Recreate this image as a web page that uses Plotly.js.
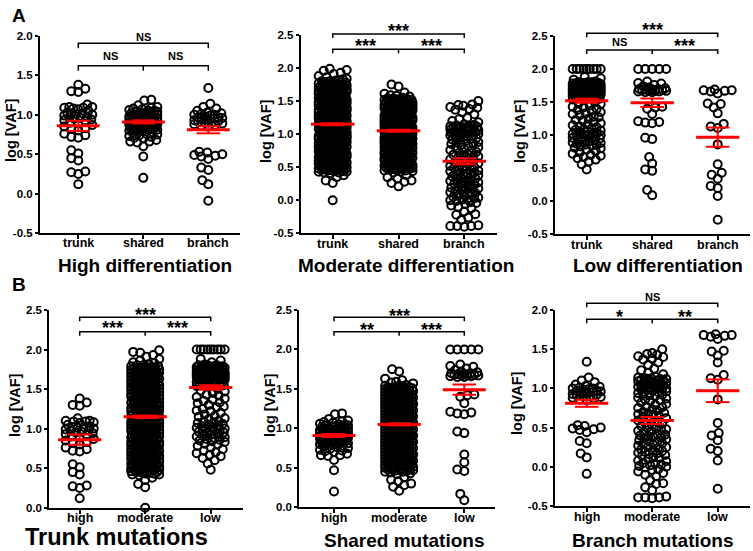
<!DOCTYPE html>
<html><head><meta charset="utf-8">
<script src="https://cdn.plot.ly/plotly-3.0.1.min.js"></script>
<style>html,body{margin:0;padding:0;background:#fff}#chart{width:753px;height:551px}</style>
</head><body><div id="chart"></div>
<script>
// ---------------- data (log VAF values) ----------------
const highTrunk = [1.38,1.33,1.30,1.29,1.13,1.10,1.10,1.09,1.09,1.08,1.07,1.05,1.03,1.02,1.02,1.01,1.00,0.99,0.98,0.97,0.96,0.95,0.94,0.93,0.92,0.90,0.89,0.87,0.85,0.83,0.82,0.80,0.76,0.74,0.72,0.71,0.55,0.51,0.45,0.42,0.28,0.27,0.25,0.12];
const highShared = [1.19,1.18,1.12,1.10,1.09,1.08,1.07,1.06,1.05,1.05,1.04,1.03,1.02,1.02,1.01,1.00,1.00,0.99,0.98,0.98,0.97,0.96,0.96,0.95,0.95,0.94,0.93,0.93,0.92,0.92,0.91,0.90,0.90,0.89,0.88,0.88,0.87,0.86,0.86,0.85,0.84,0.84,0.83,0.82,0.81,0.80,0.80,0.79,0.78,0.77,0.76,0.75,0.74,0.73,0.72,0.71,0.70,0.68,0.66,0.66,0.65,0.60,0.47,0.20,
 1.04,1.03,1.01,1.00,0.99,0.97,0.96,0.95,0.94,0.93,0.92,0.91,0.90,0.89,0.88,0.87,0.86,0.85,0.84,0.83,0.82,0.81,0.94,0.92,0.90,0.88];
const highBranch = [1.34,1.14,1.10,1.08,1.05,1.03,1.02,1.01,1.00,1.00,0.99,0.98,0.97,0.97,0.96,0.95,0.94,0.94,0.93,0.92,0.91,0.90,0.90,0.89,0.88,0.87,0.86,0.85,0.53,0.52,0.50,0.49,0.48,0.47,0.44,0.33,0.30,0.17,0.12,-0.09];
const modTrunk = [1.99,1.97,1.96,1.93,1.91,1.88,1.86,1.84,1.83,
 1.81,1.80,1.80,
 1.79,1.79,1.78,1.78,1.77,1.77,1.77,1.76,1.76,1.75,1.75,1.74,1.74,1.74,1.73,1.73,1.72,1.72,1.71,1.71,1.71,1.70,1.70,
 1.69,1.69,1.69,1.68,1.68,1.67,1.67,1.66,1.66,1.66,1.65,1.65,1.64,1.64,1.63,1.63,1.63,1.62,1.62,1.61,1.61,1.60,1.60,1.60,
 1.59,1.59,1.58,1.58,1.58,1.57,1.57,1.56,1.56,1.55,1.55,1.55,1.54,1.54,1.53,1.53,1.52,1.52,1.52,1.51,1.51,1.50,1.50,1.50,1.50,
 1.49,1.49,1.48,1.48,1.47,1.47,1.47,1.46,1.46,1.45,1.45,1.44,1.44,1.44,1.43,1.43,1.42,1.42,1.41,1.41,1.41,1.40,1.40,1.40,
 1.39,1.39,1.39,1.38,1.38,1.37,1.37,1.36,1.36,1.36,1.35,1.35,1.34,1.34,1.33,1.33,1.33,1.32,1.32,1.31,1.31,1.30,1.30,1.30,1.30,
 1.29,1.29,1.28,1.28,1.28,1.27,1.27,1.26,1.26,1.25,1.25,1.25,1.24,1.24,1.23,1.23,1.22,1.22,1.22,1.21,1.21,1.20,1.20,1.20,
 1.19,1.19,1.18,1.18,1.17,1.17,1.17,1.16,1.16,1.15,1.15,1.15,1.14,1.14,1.13,1.13,1.12,1.12,1.12,1.11,1.11,1.10,1.10,1.10,1.10,
 1.09,1.09,1.09,1.08,1.08,1.07,1.07,1.06,1.06,1.06,1.05,1.05,1.04,1.04,1.03,1.03,1.03,1.02,1.02,1.01,1.01,1.00,1.00,1.00,
 0.99,0.99,0.98,0.98,0.98,0.97,0.97,0.96,0.96,0.95,0.95,0.95,0.94,0.94,0.93,0.93,0.92,0.92,0.92,0.91,0.91,0.90,0.90,0.90,0.90,
 0.89,0.89,0.88,0.88,0.87,0.87,0.87,0.86,0.86,0.85,0.85,0.84,0.84,0.84,0.83,0.83,0.82,0.82,0.81,0.81,0.81,0.80,0.80,0.80,
 0.79,0.79,0.79,0.78,0.78,0.77,0.77,0.76,0.76,0.76,0.75,0.75,0.74,0.74,0.73,0.73,0.73,0.72,0.72,0.71,0.71,0.70,0.70,0.70,0.70,
 0.69,0.69,0.68,0.68,0.68,0.67,0.67,0.66,0.66,0.65,0.65,0.65,0.64,0.64,0.63,0.63,0.62,0.62,0.62,0.61,0.61,0.60,0.60,0.60,
 0.59,0.59,0.58,0.58,0.57,0.57,0.57,0.56,0.56,0.55,0.55,0.55,0.54,0.54,0.53,0.53,0.52,0.52,0.52,0.51,0.51,0.50,0.50,0.50,0.50,
 0.49,0.49,0.48,0.48,0.48,0.47,0.47,0.46,0.46,0.45,0.45,0.44,0.44,0.43,0.43,0.42,0.42,0.41,
 0.38,0.35,0.30,0.26,0.00];
const modShared = [1.75,1.72,1.63,1.61,1.59,1.58,1.57,
 1.55,1.54,1.54,1.53,1.53,1.52,1.52,1.52,1.51,1.51,1.50,1.50,1.50,
 1.49,1.49,1.48,1.48,1.48,1.47,1.47,1.46,1.46,1.46,1.45,1.45,1.44,1.44,1.44,1.43,1.43,1.42,1.42,1.42,1.41,1.41,1.40,1.40,1.40,
 1.39,1.39,1.38,1.38,1.38,1.37,1.37,1.36,1.36,1.36,1.35,1.35,1.34,1.34,1.34,1.33,1.33,1.32,1.32,1.32,1.31,1.31,1.30,1.30,1.30,
 1.29,1.29,1.28,1.28,1.28,1.27,1.27,1.26,1.26,1.26,1.25,1.25,1.24,1.24,1.24,1.23,1.23,1.22,1.22,1.22,1.21,1.21,1.20,1.20,1.20,
 1.19,1.19,1.18,1.18,1.18,1.17,1.17,1.16,1.16,1.16,1.15,1.15,1.14,1.14,1.14,1.13,1.13,1.12,1.12,1.12,1.11,1.11,1.10,1.10,1.10,
 1.09,1.09,1.08,1.08,1.08,1.07,1.07,1.06,1.06,1.06,1.05,1.05,1.04,1.04,1.04,1.03,1.03,1.02,1.02,1.02,1.01,1.01,1.00,1.00,1.00,
 0.99,0.99,0.98,0.98,0.98,0.97,0.97,0.96,0.96,0.96,0.95,0.95,0.94,0.94,0.94,0.93,0.93,0.92,0.92,0.92,0.91,0.91,0.90,0.90,0.90,
 0.89,0.89,0.88,0.88,0.88,0.87,0.87,0.86,0.86,0.86,0.85,0.85,0.84,0.84,0.84,0.83,0.83,0.82,0.82,0.82,0.81,0.81,0.80,0.80,0.80,
 0.79,0.79,0.78,0.78,0.78,0.77,0.77,0.76,0.76,0.76,0.75,0.75,0.74,0.74,0.74,0.73,0.73,0.72,0.72,0.72,0.71,0.71,0.70,0.70,0.70,
 0.69,0.69,0.68,0.68,0.68,0.67,0.67,0.66,0.66,0.66,0.65,0.65,0.64,0.64,0.64,0.63,0.63,0.62,0.62,0.62,0.61,0.61,0.60,0.60,0.60,
 0.59,0.59,0.58,0.58,0.58,0.57,0.57,0.56,0.56,0.56,0.55,0.55,0.54,0.54,0.54,0.53,0.53,0.52,0.52,0.52,0.51,0.51,0.50,0.50,0.50,
 0.49,0.49,0.48,0.48,0.47,0.47,0.46,0.46,0.45,0.45,0.44,0.43,0.42,
 0.38,0.35,0.33,0.30,0.28,0.26,0.21];
const modBranch = [1.50,1.45,1.44,1.43,1.41,1.40,1.38,1.37,1.33,1.30,1.25,1.23,1.20,1.18,1.15,1.14,1.13,1.12,1.12,1.11,1.10,1.10,1.09,1.08,1.07,1.06,1.05,1.05,1.04,1.03,1.02,1.01,1.00,1.00,0.99,0.98,0.96,0.95,0.94,0.93,0.92,0.91,0.90,0.88,0.87,0.86,0.85,0.84,0.82,0.80,0.79,0.77,0.76,0.75,0.73,0.72,0.70,0.69,0.68,0.67,0.66,0.65,0.64,0.62,0.60,0.59,0.57,0.56,0.55,0.53,0.52,0.50,0.49,0.48,0.47,0.46,0.45,0.44,0.42,0.41,0.40,0.39,0.38,0.37,0.36,0.35,0.34,0.33,0.32,0.30,0.29,0.28,0.27,0.26,0.25,0.24,0.22,0.21,0.20,0.19,0.18,0.17,0.16,0.15,0.14,0.12,0.11,0.10,0.08,0.07,0.05,0.04,0.03,0.02,0.01,0.00,-0.01,-0.03,-0.04,-0.06,-0.08,-0.10,-0.12,-0.17,-0.21,-0.22,-0.26,-0.30,-0.38,-0.39,-0.39,-0.39,-0.40,
 1.13,1.11,1.09,1.07,1.04,1.02,1.01,0.99,0.97];
const lowTrunk = [2.00,2.00,2.00,2.00,2.00,2.00,2.00,2.00,2.00,
 1.88,1.86,1.84,1.81,1.80,1.80,1.79,1.79,1.78,1.78,1.77,1.77,1.76,1.76,1.75,1.75,1.74,1.74,1.73,1.73,1.72,1.72,1.71,1.71,1.70,1.70,1.70,1.69,1.69,1.69,1.68,1.68,1.68,1.67,1.67,1.67,1.67,1.66,1.66,1.66,1.65,1.65,1.64,1.64,1.63,1.62,1.62,1.61,1.60,1.60,1.59,1.58,1.57,1.56,1.55,1.54,1.53,
 1.80,1.79,1.78,1.77,1.76,1.75,1.74,1.73,1.72,1.71,1.70,1.69,1.68,1.67,1.66,1.65,1.64,1.63,1.62,1.61,1.60,1.59,1.58,1.57,1.56,1.78,1.76,1.74,1.72,1.70,1.68,1.66,1.64,
 1.50,1.48,1.47,1.45,1.43,1.42,1.40,1.38,1.37,1.35,1.33,1.32,1.30,1.28,1.27,1.25,1.23,1.22,1.20,1.18,1.16,1.15,1.13,1.12,1.10,1.09,1.08,1.07,1.06,1.05,1.04,1.03,1.02,1.01,1.00,1.00,0.99,0.98,0.97,0.97,0.96,0.95,0.94,0.93,0.92,0.91,0.90,0.89,0.88,0.87,0.86,0.85,0.84,0.83,0.81,0.80,0.78,0.76,0.74,0.72,0.70,0.69,0.67,0.65,0.63,0.60,0.56,0.48];
const lowShared = [2.00,2.00,2.00,2.00,2.00,1.81,1.79,1.78,1.76,1.74,1.72,1.71,1.70,1.70,1.69,1.69,1.68,1.68,1.67,1.67,1.67,1.66,1.66,1.65,1.65,1.43,1.42,1.40,1.32,1.21,1.20,1.19,1.18,0.96,0.94,0.67,0.57,0.48,0.46,0.17,0.09];
const lowBranch = [1.69,1.68,1.68,1.67,1.66,1.63,1.48,1.47,1.42,1.33,1.17,1.13,1.11,0.86,0.56,0.43,0.40,0.34,0.23,0.20,0.08,-0.28];

// mean and SEM: [trunk, shared, branch]
const highMean = [0.86, 0.91, 0.81], highSem = [0.065, 0.02, 0.045];
const modMean  = [1.15, 1.05, 0.59], modSem  = [0.015, 0.015, 0.045];
const lowMean  = [1.52, 1.49, 0.97], lowSem  = [0.03, 0.065, 0.145];

const catLabelsA = ['trunk', 'shared', 'branch'];
const catLabelsB = ['high', 'moderate', 'low'];
const titlesA = ['High differentiation', 'Moderate differentiation', 'Low differentiation'];
const titlesB = ['Trunk mutations', 'Shared mutations', 'Branch mutations'];
// significance: [top (1 vs 3), left (1 vs 2), right (2 vs 3)]
const sigA = [['NS','NS','NS'], ['***','***','***'], ['***','NS','***']];
const sigB = [['***','***','***'], ['***','**','***'], ['NS','*','**']];
const yTitle = 'log [VAF]';
const panelLetters = ['A', 'B'];

// ---------------- layout geometry (pixels) ----------------
const W = 753, H = 551;
const FONT = 'Liberation Sans, Arial, Helvetica, sans-serif';
const geom = [
 {xd:[40,240],    cats:[78.3,208.3],  yd:[36,233],    yr:[-0.5,2.0], yt:[11,130],  title:[144.5,265,19], br:{top:43.3, low:65.7, topT:36.7, lowT:56,   drop:5}},
 {xd:[300.7,497], cats:[332.7,464.3], yd:[35,233.3],  yr:[-0.5,2.5], yt:[266,131], title:[405.7,265,19], br:{top:34,   low:49.3, topT:26.7, lowT:41.7, drop:4}},
 {xd:[555,750],   cats:[586.7,717.7], yd:[36,234.3],  yr:[-0.5,2.5], yt:[520,131], title:[658,265,19],   br:{top:33.3, low:50,   topT:26,   lowT:41.7, drop:4}},
 {xd:[49.3,243],  cats:[79.7,210.7],  yd:[310,507.7], yr:[0,2.5],    yt:[15,405],  title:[116.7,537,23.5], br:{top:317.3,low:331.7,topT:310.7,lowT:324.3,drop:4}},
 {xd:[299.3,495], cats:[334,464.3],   yd:[310,507.3], yr:[0,2.5],    yt:[270,405], title:[403.5,540,19], br:{top:317.3,low:331.7,topT:311.7,lowT:326,  drop:4}},
 {xd:[555,750],   cats:[586.7,717.7], yd:[310,506],   yr:[-0.5,2.0], yt:[517,403], title:[653,540,19],   br:{top:303.3,low:319.3,topT:296.7,lowT:313.3,drop:4}}
];

// beeswarm offsets (pixels -> category units), computed from the values
function swarm(vals, pxU, pxC, minD, maxHalf) {
  const idx = vals.map((v, i) => i).sort((a, b) => vals[a] - vals[b]);
  const placed = [], offs = new Array(vals.length);
  const cands = [0];
  for (let k = 1; k <= maxHalf; k++) cands.push(-k, k);
  for (const i of idx) {
    const y = vals[i] * pxU;
    const near = placed.filter(p => Math.abs(p.y - y) < minD);
    let best = 0, bestScore = -1;
    for (const c of cands) {
      let md = Infinity;
      for (const p of near) { const d = Math.hypot(p.x - c, p.y - y); if (d < md) md = d; }
      if (md >= minD) { best = c; break; }
      if (md > bestScore) { bestScore = md; best = c; }
    }
    placed.push({x: best, y: y});
    offs[i] = best / pxC;
  }
  return offs;
}

const traces = [], shapes = [], annotations = [];
const layout = {
  width: W, height: H, margin: {l:0, r:0, t:0, b:0}, showlegend: false,
  paper_bgcolor: '#fff', plot_bgcolor: 'rgba(0,0,0,0)',
  font: {family: FONT, color: '#000'}, shapes: shapes, annotations: annotations
};
const py = v => 1 - v / H;
const bold = (size) => ({family: FONT, size: size, weight: 'bold', color: '#000'});

function addPanel(p, groups, means, sems, cats, sig, title) {
  const g = geom[p];
  const sfx = p === 0 ? '' : String(p + 1);
  const spacing = (g.cats[1] - g.cats[0]) / 2;
  const xr = [(g.xd[0] - g.cats[0]) / spacing, (g.xd[1] - g.cats[0]) / spacing];
  const pxU = (g.yd[1] - g.yd[0]) / (g.yr[1] - g.yr[0]);
  const yt = [];
  for (let v = g.yr[0]; v <= g.yr[1] + 1e-9; v += 0.5) yt.push(Math.round(v * 10) / 10);
  layout['xaxis' + sfx] = {
    domain: [g.xd[0] / W, g.xd[1] / W], range: xr, anchor: 'y' + sfx,
    tickvals: [0, 1, 2], showticklabels: false, showline: true, linewidth: 2, linecolor: '#000',
    ticks: 'outside', ticklen: 4, tickwidth: 2, tickcolor: '#000', showgrid: false, zeroline: false, fixedrange: true
  };
  layout['yaxis' + sfx] = {
    domain: [py(g.yd[1]), py(g.yd[0])], range: g.yr, anchor: 'x' + sfx,
    tickvals: yt, ticktext: yt.map(v => v.toFixed(1)), showline: true, linewidth: 2, linecolor: '#000',
    ticks: 'outside', ticklen: 3, tickwidth: 2, tickcolor: '#000', showgrid: false, zeroline: false,
    tickfont: bold(11.5), fixedrange: true
  };
  cats.forEach((c, k) => annotations.push({xref: 'x' + sfx, yref: 'paper', x: k, y: py(g.yd[1] + 10.5),
    text: c, showarrow: false, xanchor: 'center', yanchor: 'middle', font: bold(12.5)}));
  groups.forEach((vals, k) => {
    const offs = swarm(vals, pxU, spacing, 7, 14);
    traces.push({
      type: 'scatter', mode: 'markers', x: vals.map((v, i) => k + offs[i]), y: vals,
      xaxis: 'x' + sfx, yaxis: 'y' + sfx, cliponaxis: false, hoverinfo: 'skip',
      marker: {symbol: 'circle-open', size: 8, color: '#000', line: {width: 2, color: '#000'}}
    });
  });
  const mx = [], my = [], sx = [], sy = [];
  for (let k = 0; k < 3; k++) {
    const m = means[k], s = sems[k];
    mx.push(k - 0.33, k + 0.33, null); my.push(m, m, null);
    sx.push(k - 0.18, k + 0.18, null, k - 0.18, k + 0.18, null, k, k, null);
    sy.push(m + s, m + s, null, m - s, m - s, null, m - s, m + s, null);
  }
  traces.push({type: 'scatter', mode: 'lines', x: sx, y: sy, xaxis: 'x' + sfx, yaxis: 'y' + sfx,
    line: {color: '#ff0000', width: 2}, hoverinfo: 'skip', cliponaxis: false});
  traces.push({type: 'scatter', mode: 'lines', x: mx, y: my, xaxis: 'x' + sfx, yaxis: 'y' + sfx,
    line: {color: '#ff0000', width: 3}, hoverinfo: 'skip', cliponaxis: false});
  // brackets
  const b = g.br;
  shapes.push({type: 'path', xref: 'x' + sfx, yref: 'paper', line: {color: '#000', width: 1.5},
    path: `M0,${py(b.top + b.drop)} L0,${py(b.top)} L2,${py(b.top)} L2,${py(b.top + b.drop)}`});
  shapes.push({type: 'path', xref: 'x' + sfx, yref: 'paper', line: {color: '#000', width: 1.5},
    path: `M0,${py(b.low + b.drop)} L0,${py(b.low)} L2,${py(b.low)} L2,${py(b.low + b.drop)} M1,${py(b.low)} L1,${py(b.low + b.drop)}`});
  const sigPos = [[1, b.topT], [0.5, b.lowT], [1.5, b.lowT]];
  sig.forEach((t, j) => {
    const star = t.indexOf('*') >= 0;
    annotations.push({xref: 'x' + sfx, yref: 'paper', x: sigPos[j][0], y: py(sigPos[j][1] + (star ? 4 : 0)),
      text: t, showarrow: false, xanchor: 'center', yanchor: 'middle', font: bold(star ? 18 : 11)});
  });
  annotations.push({xref: 'paper', yref: 'paper', x: g.yt[0] / W, y: py(g.yt[1]), text: yTitle, textangle: -90,
    showarrow: false, xanchor: 'center', yanchor: 'middle', font: bold(14.5)});
  annotations.push({xref: 'paper', yref: 'paper', x: g.title[0] / W, y: py(g.title[1]), text: title,
    showarrow: false, xanchor: 'center', yanchor: 'middle', font: bold(g.title[2])});
}

const groupsA = [[highTrunk, highShared, highBranch], [modTrunk, modShared, modBranch], [lowTrunk, lowShared, lowBranch]];
const statsA = [[highMean, highSem], [modMean, modSem], [lowMean, lowSem]];
for (let j = 0; j < 3; j++) {
  addPanel(j, groupsA[j], statsA[j][0], statsA[j][1], catLabelsA, sigA[j], titlesA[j]);
}
for (let j = 0; j < 3; j++) {
  const groups = [groupsA[0][j], groupsA[1][j], groupsA[2][j]];
  const means = [statsA[0][0][j], statsA[1][0][j], statsA[2][0][j]];
  const sems = [statsA[0][1][j], statsA[1][1][j], statsA[2][1][j]];
  addPanel(j + 3, groups, means, sems, catLabelsB, sigB[j], titlesB[j]);
}
annotations.push({xref: 'paper', yref: 'paper', x: 19 / W, y: py(15), text: panelLetters[0], showarrow: false,
  xanchor: 'center', yanchor: 'middle', font: bold(19)});
annotations.push({xref: 'paper', yref: 'paper', x: 19 / W, y: py(284), text: panelLetters[1], showarrow: false,
  xanchor: 'center', yanchor: 'middle', font: bold(19)});

Plotly.newPlot('chart', traces, layout, {staticPlot: true, displayModeBar: false});
</script></body></html>
